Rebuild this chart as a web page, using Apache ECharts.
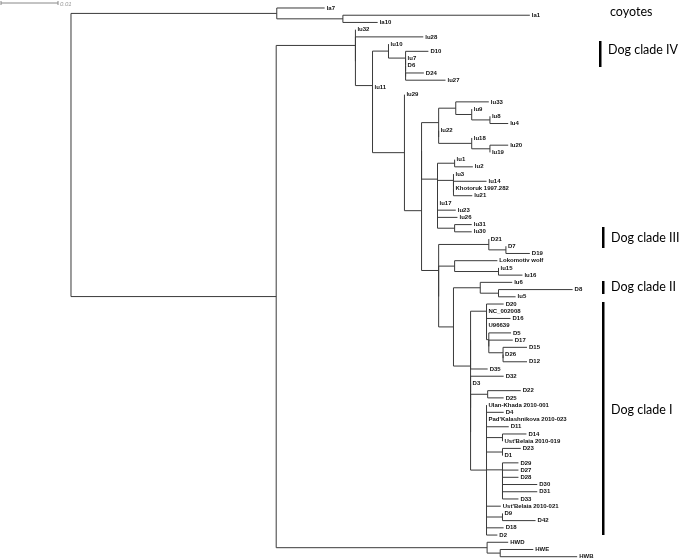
<!DOCTYPE html>
<html>
<head>
<meta charset="utf-8">
<script src="https://cdn.jsdelivr.net/npm/echarts@6/dist/echarts.min.js"></script>
<style>html,body{margin:0;padding:0;background:#fff}#chart{width:680px;height:559px}</style>
</head>
<body>
<div id="chart"></div>
<script>
// Tree topology: [child, parent, branch length]; children listed top to bottom.
// Zero-length internal nodes keep the binary structure of the original tree.
const branches = [
 ['coy','root',0.0361],
 ['la7','coy',0.0084],
 ['nA','coy',0.0116],
 ['la1','nA',0.0328],
 ['la10','nA',0.0061],
 ['dog','root',0.0360],
 ['n355','dog',0.0139],
 ['lu32','n355',0],
 ['n355z','n355',0],
 ['lu28','n355z',0.0119],
 ['n372','n355z',0.0030],
 ['n388','n372',0.0028],
 ['n372z','n372',0],
 ['lu11','n372z',0],
 ['n404','n372z',0.0056],
 ['lu10','n388',0],
 ['n405','n388',0.0030],
 ['D10','n405',0.0040],
 ['n405a','n405',0],
 ['lu7','n405a',0],
 ['n405b','n405a',0],
 ['D6','n405b',0],
 ['n405c','n405b',0],
 ['D24','n405c',0.0032],
 ['lu27','n405c',0.0070],
 ['lu29','n404',0],
 ['n421','n404',0.0030],
 ['n421z','n421',0],
 ['n438b','n421',0.0030],
 ['n438a','n421z',0.0030],
 ['n437','n421z',0.0028],
 ['n455','n438a',0.0030],
 ['n438z','n438a',0],
 ['lu22','n438z',0],
 ['n471b','n438z',0.0058],
 ['lu33','n455',0.0058],
 ['n471','n455',0.0028],
 ['lu9','n471',0],
 ['n489','n471',0.0032],
 ['lu8','n489',0],
 ['lu4','n489',0.0032],
 ['lu18','n471b',0],
 ['n489b','n471b',0.0032],
 ['lu20','n489b',0.0032],
 ['lu19','n489b',0],
 ['n454','n437',0.0030],
 ['n437a','n437',0],
 ['lu1','n454',0],
 ['lu2','n454',0.0032],
 ['n453','n437a',0.0028],
 ['n437b','n437a',0],
 ['lu3','n453',0],
 ['n453a','n453',0],
 ['lu14','n453a',0.0058],
 ['n453b','n453a',0],
 ['Khotoruk 1997.282','n453b',0],
 ['lu21','n453b',0.0033],
 ['lu17','n437b',0],
 ['n437c','n437b',0],
 ['lu23','n437c',0.0032],
 ['n437d','n437c',0],
 ['lu26','n437d',0.0035],
 ['n454b','n437d',0.0030],
 ['lu31','n454b',0.0030],
 ['lu30','n454b',0.0030],
 ['n488','n438b',0.0088],
 ['n438y','n438b',0],
 ['D21','n488',0],
 ['n505','n488',0.0030],
 ['D7','n505',0],
 ['D19','n505',0.0042],
 ['n454c','n438y',0.0028],
 ['n453d','n438y',0.0026],
 ['Lokomotiv wolf','n454c',0.0075],
 ['n498','n454c',0.0077],
 ['lu15','n498',0],
 ['lu16','n498',0.0042],
 ['n480','n453d',0.0047],
 ['n470','n453d',0.0030],
 ['lu6','n480',0.0056],
 ['n498b','n480',0.0032],
 ['D8','n498b',0.0130],
 ['lu5','n498b',0.0030],
 ['n470a','n470',0],
 ['n470b','n470',0],
 ['n486','n470a',0.0028],
 ['D35','n470a',0.0030],
 ['D20','n486',0.0030],
 ['n486a','n486',0],
 ['NC_002008','n486a',0],
 ['n486c','n486a',0],
 ['D16','n486c',0.0042],
 ['n486d','n486c',0],
 ['U96639','n486d',0],
 ['n488c','n486d',0.0004],
 ['D5','n488c',0.0039],
 ['n488d','n488c',0],
 ['D17','n488d',0.0042],
 ['n502','n488d',0.0025],
 ['D15','n502',0.0042],
 ['n502z','n502',0],
 ['D26','n502z',0],
 ['D12','n502z',0.0042],
 ['D32','n470b',0.0058],
 ['n470c','n470b',0],
 ['D3','n470c',0],
 ['n470d','n470c',0],
 ['n487','n470d',0.0030],
 ['n486b','n470d',0.0028],
 ['D22','n487',0.0058],
 ['D25','n487',0.0028],
 ['Ulan-Khada 2010-001','n486b',0],
 ['D4','n486b',0.0030],
 ["Pad'Kalashnikova 2010-023",'n486b',0],
 ['D11','n486b',0.0039],
 ['n502b','n486b',0.0028],
 ['D14','n502b',0.0042],
 ["Ust'Belaia 2010-019",'n502b',0],
 ['n502c','n486b',0.0028],
 ['D23','n502c',0.0032],
 ['D1','n502c',0],
 ['n502d','n486b',0.0028],
 ['D29','n502d',0.0028],
 ['n502f','n502d',0],
 ['D27','n502f',0.0028],
 ['n502g','n502f',0],
 ['D28','n502g',0.0028],
 ['n502h','n502g',0],
 ['D30','n502h',0.0061],
 ['n502i','n502h',0],
 ['D31','n502i',0.0061],
 ['D33','n502i',0.0028],
 ["Ust'Belaia 2010-021",'n486b',0.0025],
 ['n502e','n486b',0.0028],
 ['D9','n502e',0],
 ['D42','n502e',0.0058],
 ['D18','n486b',0.0030],
 ['D2','n486b',0.0019],
 ['nHW','dog',0.0370],
 ['HWD','nHW',0.0037],
 ['n500','nHW',0.0023],
 ['HWE','n500',0.0058],
 ['HWB','n500',0.0135]
];
const scaleBarLength = 0.01;
const scaleBarLabel = '0.01';
const cladeLabels = ['coyotes','Dog clade IV','Dog clade III','Dog clade II','Dog clade I'];

// ---- build tree ----
const nodes = {};
function getNode(name){ if(!nodes[name]) nodes[name] = {name, children:[], parent:null, len:0}; return nodes[name]; }
branches.forEach(([c,p,l]) => { const cn = getNode(c), pn = getNode(p); cn.parent = pn; cn.len = l; pn.children.push(cn); });
const root = nodes['root'];
let leafIdx = 0;
const order = [];
function layout(n, depth){
  n.depth = depth;
  order.push(n);
  if (n.children.length === 0) { n.y = leafIdx++; n.leaf = true; }
  else {
    n.children.forEach(ch => layout(ch, depth + ch.len));
    n.yMin = n.children[0].y; n.yMax = n.children[n.children.length-1].y;
    n.y = (n.yMin + n.yMax) / 2;
  }
}
layout(root, 0);
const data = order.map(n => ({
  name: n.leaf ? n.name : '',
  value: [n.depth, n.y, n.parent ? n.parent.depth : n.depth, n.leaf ? n.y : n.yMin, n.leaf ? n.y : n.yMax, n.leaf ? 1 : 0]
}));

const LINE = '#3a3a3a';
const chart = echarts.init(document.getElementById('chart'), null, {renderer:'canvas'});
chart.setOption({
  animation: false,
  grid: {left:0, right:0, top:0, bottom:0},
  xAxis: {type:'value', min:-0.012456, max:0.106842, show:false},
  yAxis: {type:'value', inverse:true, min:-1.108, max:76.316, show:false},
  series: [{
    type:'custom',
    coordinateSystem:'cartesian2d',
    data: data,
    renderItem: function(params, api){
      const d = api.value(0), y = api.value(1), pd = api.value(2), y0 = api.value(3), y1 = api.value(4), leaf = api.value(5);
      const p = api.coord([d, y]);
      const els = [];
      const q = api.coord([pd, y]);
      if (Math.abs(p[0]-q[0]) > 0.1) els.push({type:'line', shape:{x1:q[0], y1:p[1], x2:p[0], y2:p[1]}, style:{stroke:LINE, lineWidth:1}});
      if (!leaf) {
        const a = api.coord([d, y0]), b = api.coord([d, y1]);
        els.push({type:'line', shape:{x1:a[0], y1:a[1], x2:b[0], y2:b[1]}, style:{stroke:LINE, lineWidth:1}});
      } else {
        els.push({type:'text', style:{text: data[params.dataIndex].name, x:p[0]+2, y:p[1], verticalAlign:'middle', align:'left',
          fontSize:6, fontWeight:'bold', fontFamily:'Liberation Sans, Arial, sans-serif', fill:'#111'}});
      }
      return {type:'group', children:els};
    }
  },{
    type:'custom',
    coordinateSystem:'cartesian2d',
    data:[[0, scaleBarLength]],
    renderItem: function(params, api){
      const a = api.coord([0, 0]), b = api.coord([api.value(1), 0]);
      const len = b[0]-a[0];
      const x0 = 1, yy = 3;
      return {type:'group', children:[
        {type:'line', shape:{x1:x0, y1:yy, x2:x0+len, y2:yy}, style:{stroke:'#888', lineWidth:1}},
        {type:'line', shape:{x1:x0, y1:yy-2, x2:x0, y2:yy+2}, style:{stroke:'#888', lineWidth:1}},
        {type:'line', shape:{x1:x0+len, y1:yy-2, x2:x0+len, y2:yy+2}, style:{stroke:'#888', lineWidth:1}},
        {type:'text', style:{text:scaleBarLabel, x:x0+len+2, y:yy+1, verticalAlign:'middle', fontSize:6, fontStyle:'italic', fontFamily:'Liberation Sans, Arial, sans-serif', fill:'#999'}}
      ]};
    }
  }],
  graphic: [
    {type:'text', left:610, top:5, style:{text:cladeLabels[0], fontSize:12.5, fontFamily:'Lato, sans-serif', fill:'#000'}},
    {type:'rect', shape:{x:599, y:41, width:2.5, height:26}, style:{fill:'#000'}},
    {type:'text', left:608, top:43, style:{text:cladeLabels[1], fontSize:12.5, fontFamily:'Lato, sans-serif', fill:'#000'}},
    {type:'rect', shape:{x:602, y:227, width:2.5, height:21}, style:{fill:'#000'}},
    {type:'text', left:611, top:231, style:{text:cladeLabels[2], fontSize:12.5, fontFamily:'Lato, sans-serif', fill:'#000'}},
    {type:'rect', shape:{x:602, y:281, width:2.5, height:13}, style:{fill:'#000'}},
    {type:'text', left:611, top:280, style:{text:cladeLabels[3], fontSize:12.5, fontFamily:'Lato, sans-serif', fill:'#000'}},
    {type:'rect', shape:{x:602, y:302, width:2.5, height:233}, style:{fill:'#000'}},
    {type:'text', left:611, top:403, style:{text:cladeLabels[4], fontSize:12.5, fontFamily:'Lato, sans-serif', fill:'#000'}}
  ]
});
</script>
</body>
</html>
